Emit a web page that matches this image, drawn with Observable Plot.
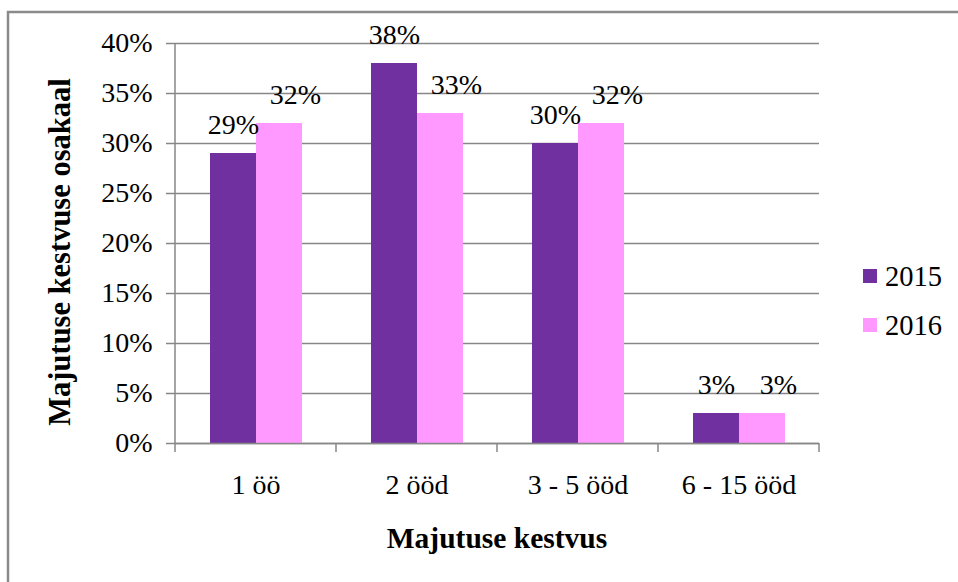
<!DOCTYPE html>
<html>
<head>
<meta charset="utf-8">
<script src="https://cdn.jsdelivr.net/npm/d3@7"></script>
<script src="https://cdn.jsdelivr.net/npm/@observablehq/plot@0.6"></script>
<style>
  body { margin: 0; background: #fff; }
  #chart { width: 958px; height: 582px; }
  #chart svg { display: block; }
  #chart svg, #chart svg text { font-family: "Liberation Serif", "Times New Roman", serif !important; }
</style>
</head>
<body>
<div id="chart"></div>
<script>
// Length of stay categories and the share of each, by year (percent)
const categories = ["1 öö", "2 ööd", "3 - 5 ööd", "6 - 15 ööd"];
const years = ["2015", "2016"];
const share2015 = [29, 38, 30, 3];
const share2016 = [32, 33, 32, 3];
const yTicks = [0, 5, 10, 15, 20, 25, 30, 35, 40];
const yTitle = "Majutuse kestvuse osakaal";
const xTitle = "Majutuse kestvus";
const seriesColors = ["#7030A0", "#FF99FF"];

const rows = categories.flatMap((cat, i) => [
  {cat, year: years[0], value: share2015[i]},
  {cat, year: years[1], value: share2016[i]}
]);

const W = 958, H = 582;
const gray = "#878787";
const serif = "'Liberation Serif', 'Times New Roman', serif";
const pct = d => d + "%";

const plot = Plot.plot({
  width: W,
  height: H,
  marginLeft: 174,
  marginRight: 138,
  marginTop: 43,
  marginBottom: 139,
  style: {fontFamily: serif, fontSize: "28px", color: "#000", background: "transparent"},
  fx: {domain: categories, padding: 0, axis: null, label: null},
  x: {domain: years, paddingInner: 0, paddingOuter: 0.737, axis: null, label: null},
  y: {domain: [0, 40], axis: null, label: null},
  color: {domain: years, range: seriesColors},
  marks: [
    Plot.gridY(yTicks, {stroke: gray, strokeOpacity: 1, strokeWidth: 1.5}),
    Plot.axisY(yTicks, {
      label: null, tickSize: 9, tickPadding: 14, stroke: gray, strokeWidth: 1.5,
      fill: "#000", fontSize: 28, tickFormat: pct
    }),
    Plot.barY(rows, {fx: "cat", x: "year", y: "value", fill: "year"}),
    Plot.ruleY([0], {stroke: gray, strokeWidth: 1.5}),
    Plot.text(rows.filter(d => d.year === years[0]), {
      fx: "cat", x: "year", y: "value", text: d => pct(d.value),
      lineAnchor: "bottom", dy: -20, fontSize: 28, fill: "#000"
    }),
    Plot.text(rows.filter(d => d.year === years[1]), {
      fx: "cat", x: "year", y: "value", text: d => pct(d.value),
      lineAnchor: "bottom", dy: -20, dx: 16, fontSize: 28, fill: "#000"
    }),
    Plot.axisFx({anchor: "bottom", label: null, tickSize: 0, tickPadding: 31, fontSize: 28, fill: "#000"})
  ]
});

const svg = d3.select(plot);
const fx = plot.scale("fx");
const y = plot.scale("y");
const y0 = y.apply(0), yTop = y.apply(40);

// Category boundary ticks along the baseline, plus the vertical value axis line
const edges = categories.map(c => fx.apply(c)).concat([fx.apply(categories[categories.length - 1]) + fx.bandwidth]);
svg.append("g")
  .attr("stroke", gray).attr("stroke-width", 1.5)
  .selectAll("line").data(edges).join("line")
  .attr("x1", d => d).attr("x2", d => d)
  .attr("y1", (d, i) => i === 0 ? yTop : y0)
  .attr("y2", y0 + 9);

// Axis titles
svg.append("text")
  .attr("transform", `translate(70,${(y0 + yTop) / 2 + 9}) rotate(-90)`)
  .attr("text-anchor", "middle")
  .attr("font-weight", "bold").attr("font-size", 30.5)
  .text(yTitle);

svg.append("text")
  .attr("x", (edges[0] + edges[edges.length - 1]) / 2).attr("y", 548)
  .attr("text-anchor", "middle")
  .attr("font-weight", "bold").attr("font-size", 29.5)
  .text(xTitle);

// Legend
const color = plot.scale("color");
const legend = svg.append("g").attr("font-size", 28.5).attr("text-anchor", "start");
years.forEach((yr, i) => {
  const g = legend.append("g").attr("transform", `translate(863,${269 + i * 49})`);
  g.append("rect").attr("width", 14).attr("height", 14).attr("fill", color.apply(yr));
  g.append("text").attr("x", 22).attr("y", 17).text(yr);
});

// Outer frame line along the top and left
svg.append("path")
  .attr("d", `M8,${H}V12H${W}`)
  .attr("fill", "none").attr("stroke", "#8a8a8a").attr("stroke-width", 2.5);

document.getElementById("chart").appendChild(plot);
</script>
</body>
</html>
